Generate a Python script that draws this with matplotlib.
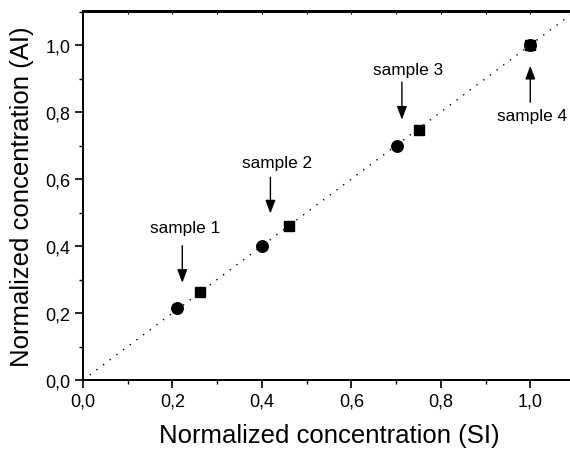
import matplotlib.pyplot as plt
from matplotlib.ticker import MultipleLocator, FuncFormatter

plt.rcParams['font.family'] = ['Liberation Sans', 'DejaVu Sans']

# data
circle_x = [0.211, 0.401, 0.703, 1.0]
circle_y = [0.214, 0.401, 0.699, 1.0]
square_x = [0.261, 0.460, 0.752, 1.0]
square_y = [0.262, 0.461, 0.747, 1.0]

labels = ["sample 1", "sample 2", "sample 3", "sample 4"]
label_xy = [(0.228, 0.456), (0.433, 0.650), (0.727, 0.926), (1.003, 0.789)]
arrow_tip = [(0.222, 0.290), (0.419, 0.497), (0.713, 0.777), (1.0, 0.938)]
arrow_tail = [(0.222, 0.401), (0.419, 0.605), (0.713, 0.889), (1.0, 0.829)]

fig = plt.figure(figsize=(5.7, 4.52), dpi=100)
ax = fig.add_axes([83 / 570, 71 / 452, 492 / 570, 368.5 / 452])

ax.plot([0, 1.1], [0, 1.1], color="black", linestyle=(0, (1, 5)), linewidth=1.0)
ax.plot(square_x, square_y, "s", color="black", markersize=7.2)
ax.plot(circle_x, circle_y, "o", color="black", markersize=8.3)

for txt, (tx, ty), (hx, hy), (sx, sy) in zip(labels, label_xy, arrow_tip, arrow_tail):
    ax.text(tx, ty, txt, fontsize=12.4, ha="center", va="center")
    ax.annotate("", xy=(hx, hy), xytext=(sx, sy),
                arrowprops=dict(arrowstyle="-|>,head_length=0.8,head_width=0.3",
                                color="black", lw=1.0, shrinkA=0, shrinkB=0))

ax.set_xlim(0, 1.1)
ax.set_ylim(0, 1.1)
ax.xaxis.set_major_locator(MultipleLocator(0.2))
ax.yaxis.set_major_locator(MultipleLocator(0.2))
ax.xaxis.set_minor_locator(MultipleLocator(0.1))
ax.yaxis.set_minor_locator(MultipleLocator(0.1))
fmt = FuncFormatter(lambda v, p: f"{v:.1f}".replace(".", ","))
ax.xaxis.set_major_formatter(fmt)
ax.yaxis.set_major_formatter(fmt)

ax.tick_params(which="major", direction="out", length=5.5, width=1.2, labelsize=13)
ax.tick_params(which="minor", direction="out", length=3, width=1.0)

for s in ax.spines.values():
    s.set_linewidth(1.4)

ax.set_xlabel("Normalized concentration (SI)", fontsize=18.5, labelpad=10)
ax.set_ylabel("Normalized concentration (AI)", fontsize=18.5, labelpad=8)

# top ticks: short, inward
sec = ax.secondary_xaxis("top")
sec.xaxis.set_major_locator(MultipleLocator(0.1))
sec.tick_params(direction="in", length=2, width=0.8, labeltop=False)
sec.spines["top"].set_linewidth(1.4)

fig.savefig("out.png", dpi=100)
